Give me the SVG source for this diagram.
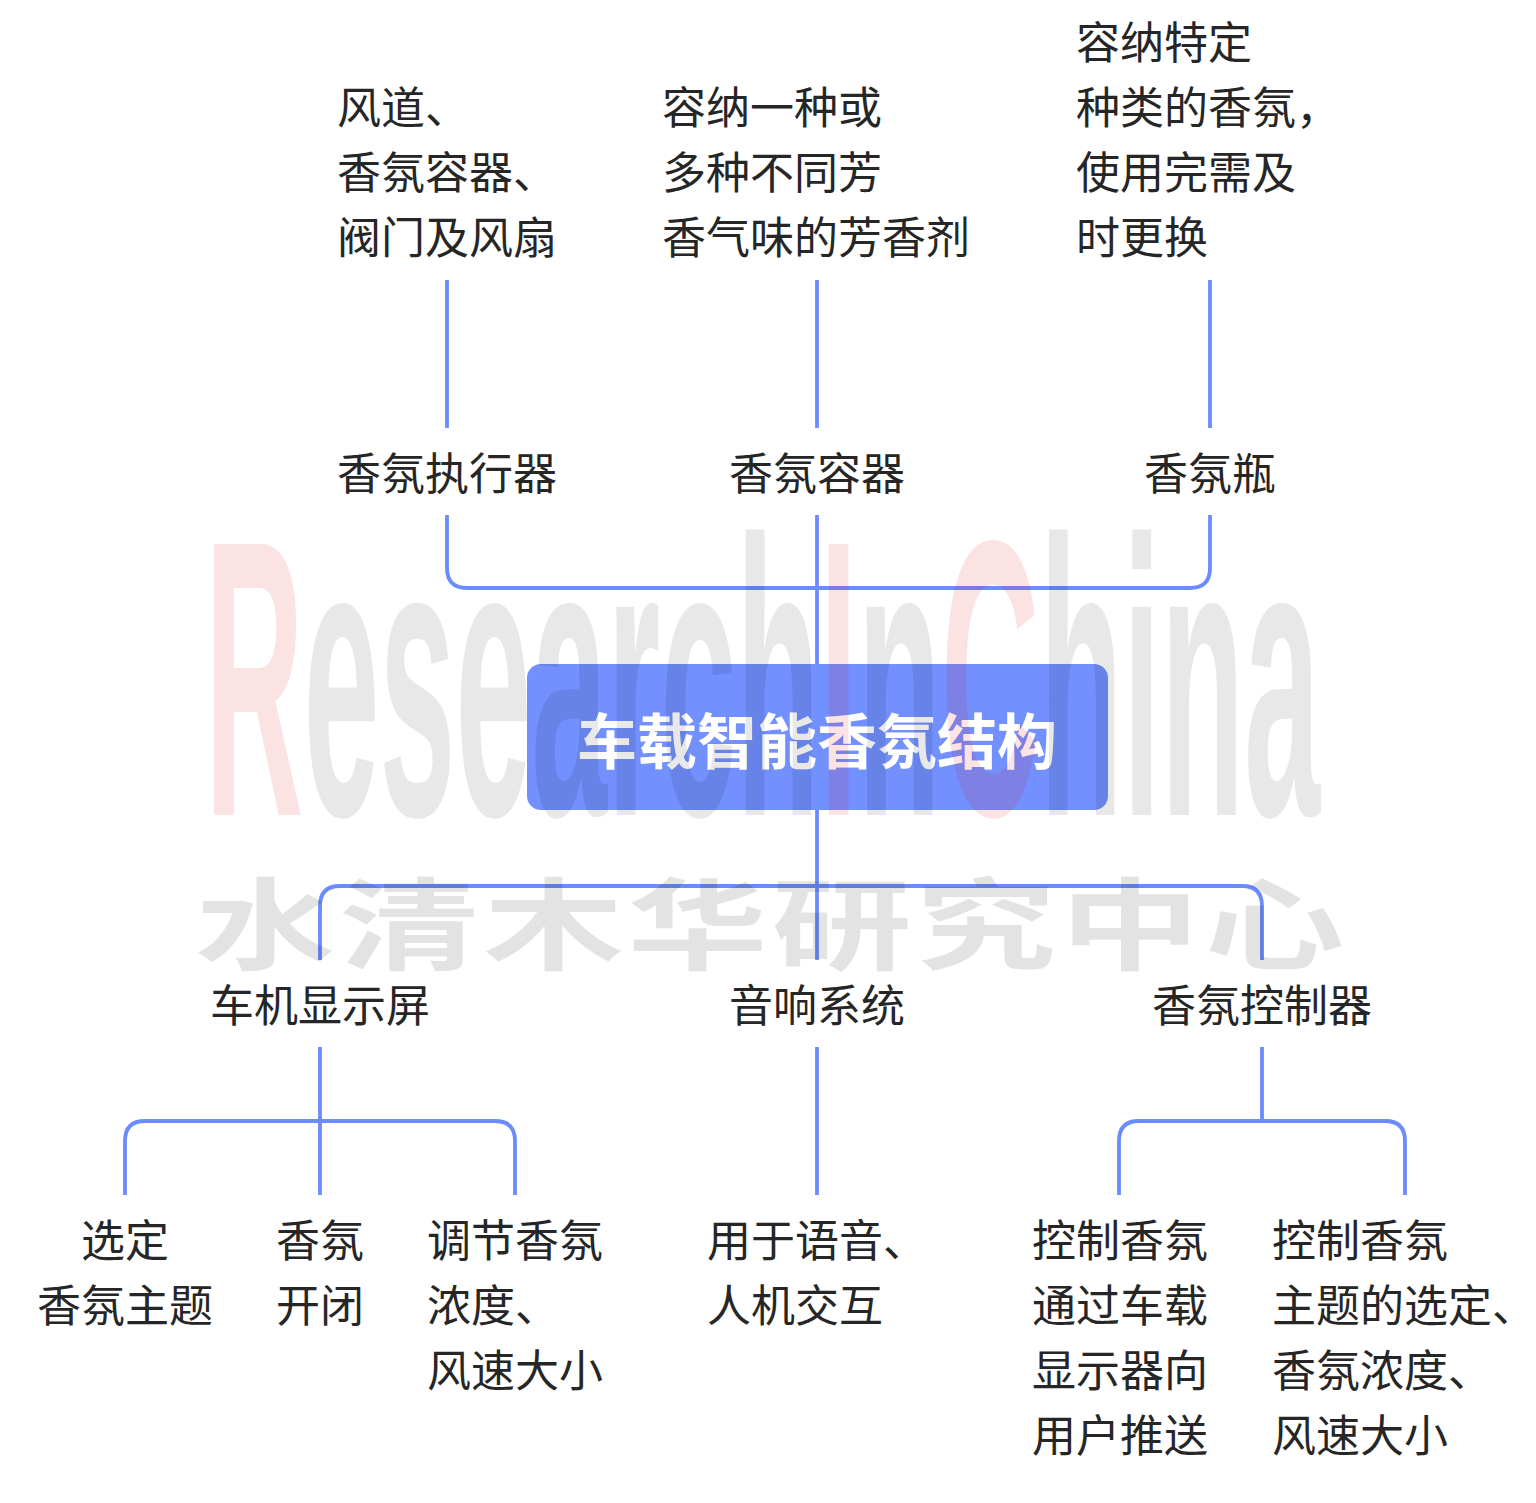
<svg xmlns="http://www.w3.org/2000/svg" width="1536" height="1503" viewBox="0 0 1536 1503">
<style>
.t{font-family:"Noto Sans CJK SC","Noto Sans",sans-serif;font-size:44px;fill:#262626}
.c{text-anchor:middle}
.title{font-family:"Noto Sans CJK SC","Noto Sans",sans-serif;font-size:60px;font-weight:bold;fill:#ffffff;text-anchor:middle}
.ln{fill:none;stroke:#6b8cff;stroke-width:3.8}
.wm{font-family:"Liberation Sans","Noto Sans",sans-serif;font-weight:bold}
</style>
<rect x="0" y="0" width="1536" height="1503" fill="#ffffff"/>
<g id="connectors">
<path class="ln" d="M447,280V428M817,280V428M1210,280V428"/>
<path class="ln" d="M447,515V568Q447,588 467,588H1190Q1210,588 1210,568V515"/>
<path class="ln" d="M817,515V664"/>
<path class="ln" d="M817,810V960"/>
<path class="ln" d="M320,960V906Q320,886 340,886H1242Q1262,886 1262,906V960"/>
<path class="ln" d="M320,1047V1195M817,1047V1195M1262,1047V1121"/>
<path class="ln" d="M125,1195V1141Q125,1121 145,1121H495Q515,1121 515,1141V1195"/>
<path class="ln" d="M1119,1195V1141Q1119,1121 1139,1121H1385Q1405,1121 1405,1141V1195"/>
</g>
<g id="desc-actuator"><text class="t" x="337" y="124">风道、</text><text class="t" x="337" y="189">香氛容器、</text><text class="t" x="337" y="254">阀门及风扇</text></g>
<g id="desc-container"><text class="t" x="662" y="124">容纳一种或</text><text class="t" x="662" y="189">多种不同芳</text><text class="t" x="662" y="254">香气味的芳香剂</text></g>
<g id="desc-bottle"><text class="t" x="1076" y="59">容纳特定</text><text class="t" x="1076" y="124">种类的香氛，</text><text class="t" x="1076" y="189">使用完需及</text><text class="t" x="1076" y="254">时更换</text></g>
<g id="actuator"><text class="t c" x="447" y="490">香氛执行器</text></g>
<g id="container"><text class="t c" x="817" y="490">香氛容器</text></g>
<g id="bottle"><text class="t c" x="1210" y="490">香氛瓶</text></g>
<g id="root"><rect x="527" y="664" width="581" height="146" rx="14" fill="#7390ff"/><text class="title" x="817" y="764">车载智能香氛结构</text></g>
<g id="display"><text class="t c" x="320" y="1022">车机显示屏</text></g>
<g id="audio"><text class="t c" x="817" y="1022">音响系统</text></g>
<g id="controller"><text class="t c" x="1262" y="1022">香氛控制器</text></g>
<g id="select-theme"><text class="t c" x="125" y="1257">选定</text><text class="t c" x="125" y="1322">香氛主题</text></g>
<g id="on-off"><text class="t c" x="320" y="1257">香氛</text><text class="t c" x="320" y="1322">开闭</text></g>
<g id="adjust"><text class="t" x="427" y="1257">调节香氛</text><text class="t" x="427" y="1322">浓度、</text><text class="t" x="427" y="1387">风速大小</text></g>
<g id="voice"><text class="t" x="707" y="1257">用于语音、</text><text class="t" x="707" y="1322">人机交互</text></g>
<g id="push"><text class="t" x="1032" y="1257">控制香氛</text><text class="t" x="1032" y="1322">通过车载</text><text class="t" x="1032" y="1387">显示器向</text><text class="t" x="1032" y="1452">用户推送</text></g>
<g id="control-theme"><text class="t" x="1272" y="1257">控制香氛</text><text class="t" x="1272" y="1322">主题的选定、</text><text class="t" x="1272" y="1387">香氛浓度、</text><text class="t" x="1272" y="1452">风速大小</text></g>
<g id="watermark">
<text class="wm" x="0" y="0" transform="translate(205,815) scale(0.35,1)" font-size="394" textLength="3186" lengthAdjust="spacingAndGlyphs" fill="#000000" fill-opacity="0.09"><tspan fill="#e00000" fill-opacity="0.11">R</tspan>esearch<tspan fill="#e00000" fill-opacity="0.11">I</tspan>n<tspan fill="#e00000" fill-opacity="0.11">C</tspan>hina</text>
<text x="0" y="0" transform="translate(195,962) scale(1.4,1)" font-family="'Noto Sans CJK SC',sans-serif" font-weight="bold" font-size="100" textLength="821" lengthAdjust="spacing" fill="#000000" fill-opacity="0.11">水清木华研究中心</text>
</g>
</svg>
